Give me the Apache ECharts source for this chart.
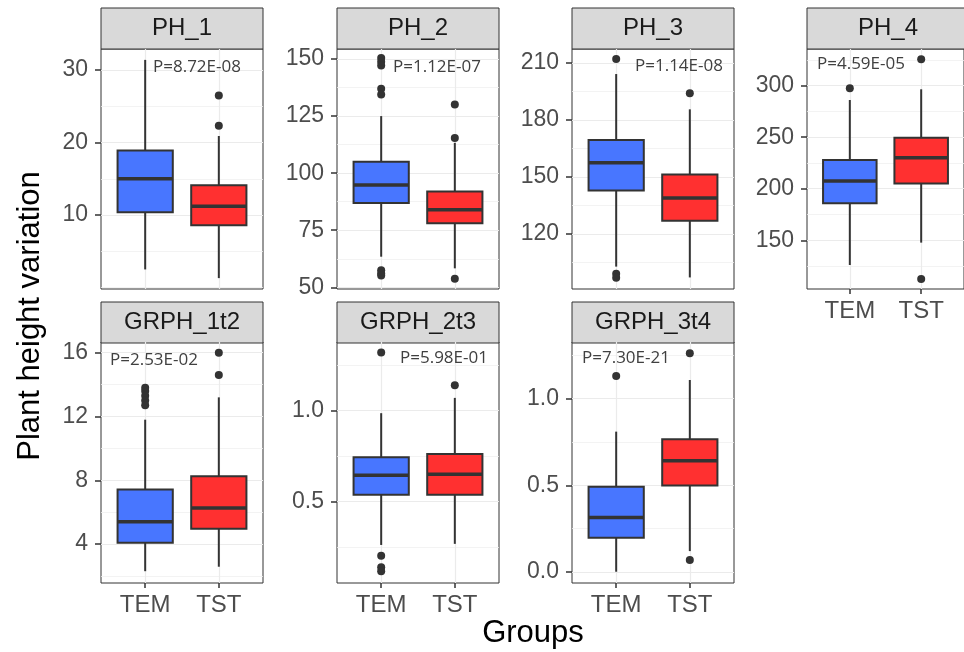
<!DOCTYPE html>
<html>
<head>
<meta charset="utf-8">
<script src="https://cdn.jsdelivr.net/npm/echarts@6.0.0/dist/echarts.min.js"></script>
<style>
  html, body { margin: 0; padding: 0; background: #fff; }
  #main { width: 964px; height: 652px; }
</style>
</head>
<body>
<div id="main"></div>
<script>
// groups on the x axis of every panel
var groups = ['TEM', 'TST'];
var panelNames = ['PH_1', 'PH_2', 'PH_3', 'PH_4', 'GRPH_1t2', 'GRPH_2t3', 'GRPH_3t4'];
var pValues = ['P=8.72E-08', 'P=1.12E-07', 'P=1.14E-08', 'P=4.59E-05', 'P=2.53E-02', 'P=5.98E-01', 'P=7.30E-21'];

// box stats: [lower whisker, Q1, median, Q3, upper whisker]
var temBoxes = [
  [2.5, 10.4, 15.0, 18.9, 31.4],
  [63.4, 86.9, 94.8, 105.0, 125.0],
  [102.7, 142.8, 157.4, 169.4, 204.2],
  [126.0, 185.8, 207.5, 227.9, 286.1],
  [2.3, 4.08, 5.4, 7.42, 11.8],
  [0.262, 0.538, 0.645, 0.744, 0.986],
  [0.002, 0.198, 0.315, 0.492, 0.810]
];
var tstBoxes = [
  [1.3, 8.6, 11.2, 14.1, 20.9],
  [58.3, 78.1, 84.0, 92.0, 113.3],
  [97.0, 126.9, 138.9, 151.2, 185.6],
  [147.7, 205.2, 230.1, 249.5, 296.5],
  [2.58, 4.96, 6.27, 8.25, 13.2],
  [0.268, 0.538, 0.651, 0.762, 1.07],
  [0.121, 0.500, 0.642, 0.766, 1.108]
];
var temOutliers = [
  [],
  [150.5, 148.8, 147.2, 137.0, 134.5, 57.5, 56.0, 55.2],
  [212.1, 98.9, 96.8],
  [297.5],
  [13.8, 13.6, 13.3, 13.0, 12.7],
  [1.319, 0.203, 0.139, 0.118],
  [1.131]
];
var tstOutliers = [
  [26.5, 22.3],
  [130.1, 115.4, 53.7],
  [194.1],
  [325.6, 112.4],
  [16.0, 14.6],
  [1.14],
  [1.262, 0.069]
];

// y scales
var yMin = [-0.2, 49.25, 90.9, 102.7, 1.56, 0.053, -0.063];
var yMax = [32.9, 154.4, 217.4, 335.6, 16.67, 1.377, 1.327];
var yTicks = [
  [10, 20, 30],
  [50, 75, 100, 125, 150],
  [120, 150, 180, 210],
  [150, 200, 250, 300],
  [4, 8, 12, 16],
  [0.5, 1.0],
  [0.0, 0.5, 1.0]
];
var yMinorTicks = [
  [0, 5, 15, 25],
  [62.5, 87.5, 112.5, 137.5],
  [105, 135, 165, 195],
  [125, 175, 225, 275, 325],
  [2, 6, 10, 14],
  [0.25, 0.75, 1.25],
  [0.25, 0.75, 1.25]
];
var yDecimals = [0, 0, 0, 0, 0, 1, 1];

var boxColors = ['#4876FF', '#FF3030'];

// layout of the facet panels
var colLeft = [101, 337, 572, 807];
var panelW = 162;
var rows = [
  { strip: 8, top: 49, height: 240 },
  { strip: 302, top: 342, height: 241 }
];
var stripH = 41;
var pPos = [[153, 67], [393, 67], [635, 66], [817, 64], [110, 360], [400, 358], [582, 358]];

var tickFont = 'Liberation Sans';
var ink = '#333333';

function renderBox(params, api) {
  var x = api.value(0);
  var lo = api.coord([x, api.value(1)]);
  var q1 = api.coord([x, api.value(2)]);
  var md = api.coord([x, api.value(3)]);
  var q3 = api.coord([x, api.value(4)]);
  var hi = api.coord([x, api.value(5)]);
  var half = api.size([0.75, 0])[0] / 2;
  return {
    type: 'group',
    children: [
      { type: 'line', shape: { x1: lo[0], y1: lo[1], x2: q1[0], y2: q1[1] }, style: { stroke: ink, lineWidth: 2 } },
      { type: 'line', shape: { x1: q3[0], y1: q3[1], x2: hi[0], y2: hi[1] }, style: { stroke: ink, lineWidth: 2 } },
      { type: 'rect', shape: { x: q3[0] - half, y: q3[1], width: half * 2, height: q1[1] - q3[1] },
        style: { fill: boxColors[x - 1], stroke: ink, lineWidth: 2 } },
      { type: 'line', shape: { x1: md[0] - half, y1: md[1], x2: md[0] + half, y2: md[1] }, style: { stroke: ink, lineWidth: 3.5 } }
    ]
  };
}

var grids = [], xAxes = [], yAxes = [], series = [], titles = [], graphics = [];

panelNames.forEach(function (name, i) {
  var row = rows[i < 4 ? 0 : 1];
  var left = colLeft[i % 4];
  var showX = i >= 3; // bottom panel of each column
  grids.push({
    left: left, top: row.top, width: panelW, height: row.height,
    show: true, backgroundColor: '#fff', borderColor: ink, borderWidth: 1
  });
  xAxes.push({
    gridIndex: i, type: 'value', min: 0.4, max: 2.6, position: 'bottom',
    axisLine: { show: false, onZero: false },
    axisTick: { show: showX, customValues: [1, 2], length: 5, lineStyle: { color: ink, width: 1.5 } },
    axisLabel: {
      show: showX, customValues: [1, 2], margin: 10,
      fontSize: 24, fontFamily: tickFont, color: '#4d4d4d',
      formatter: function (v) { return groups[Math.round(v) - 1]; }
    },
    splitLine: { show: true, lineStyle: { color: '#ebebeb', width: 1.2 } }
  });
  yAxes.push({
    gridIndex: i, type: 'value', min: yMin[i], max: yMax[i], position: 'left',
    axisLine: { show: false, onZero: false },
    axisTick: { show: true, customValues: yTicks[i], length: 6, lineStyle: { color: ink, width: 1.5 } },
    axisLabel: {
      customValues: yTicks[i], margin: 13,
      fontSize: 23, fontFamily: tickFont, color: '#4d4d4d',
      formatter: (function (d) { return function (v) { return v.toFixed(d); }; })(yDecimals[i])
    },
    splitLine: { show: true, lineStyle: { color: '#ebebeb', width: 1.2 } }
  });
  yAxes.push({
    gridIndex: i, type: 'value', min: yMin[i], max: yMax[i], position: 'right',
    axisLine: { show: false, onZero: false },
    axisTick: { show: false, customValues: yMinorTicks[i] },
    axisLabel: { show: false },
    splitLine: { show: true, lineStyle: { color: '#f0f0f0', width: 0.8 } }
  });

  series.push({
    type: 'custom', xAxisIndex: i, yAxisIndex: i * 2,
    renderItem: renderBox,
    encode: { x: 0, y: [1, 2, 3, 4, 5] },
    data: [[1].concat(temBoxes[i]), [2].concat(tstBoxes[i])],
    z: 3
  });
  var pts = temOutliers[i].map(function (v) { return [1, v]; })
    .concat(tstOutliers[i].map(function (v) { return [2, v]; }));
  series.push({
    type: 'scatter', xAxisIndex: i, yAxisIndex: i * 2,
    data: pts, symbolSize: 8, itemStyle: { color: ink, opacity: 1 }, z: 4
  });

  titles.push({
    text: pValues[i], left: pPos[i][0], top: pPos[i][1] - 10, padding: 0,
    textStyle: { fontSize: 17, lineHeight: 20, fontFamily: 'Open Sans', fontWeight: 'normal', color: '#404040' }
  });

  graphics.push({
    type: 'rect', shape: { x: left, y: row.strip, width: panelW, height: stripH },
    style: { fill: '#d9d9d9', stroke: ink, lineWidth: 1 }
  });
  graphics.push({
    type: 'text', x: left + panelW / 2, y: row.strip + stripH / 2,
    style: { text: name, align: 'center', verticalAlign: 'middle', fontSize: 24, fontFamily: tickFont, fill: '#1a1a1a' }
  });
});

graphics.push({
  type: 'text', x: 533, y: 633,
  style: { text: 'Groups', align: 'center', verticalAlign: 'middle', fontSize: 31, fontFamily: tickFont, fill: '#000' }
});
graphics.push({
  type: 'text', x: 30, y: 316, rotation: Math.PI / 2,
  style: { text: 'Plant height variation', align: 'center', verticalAlign: 'middle', fontSize: 31, fontFamily: tickFont, fill: '#000' }
});

var chart = echarts.init(document.getElementById('main'), null, { renderer: 'canvas' });
chart.setOption({
  backgroundColor: '#fff',
  animation: false,
  title: titles,
  grid: grids,
  xAxis: xAxes,
  yAxis: yAxes,
  series: series,
  graphic: graphics
});
</script>
</body>
</html>
